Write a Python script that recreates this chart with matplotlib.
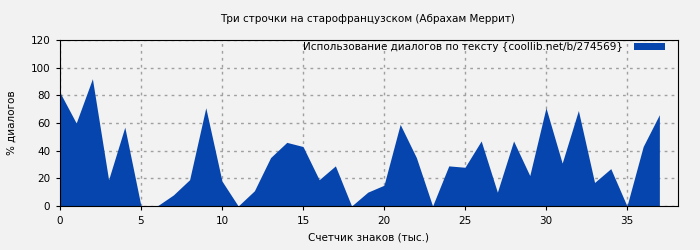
import numpy as np
from matplotlib import pyplot as plt

x = np.arange(0, 38)
usage = [82, 60, 92, 19, 57, 0, 0, 8, 19, 71, 18, 0, 11, 35, 46, 43, 19, 29, 0, 10,
         15, 59, 35, 0, 29, 28, 47, 10, 47, 22, 71, 31, 69, 17, 27, 0, 43, 66]

title = 'Три строчки на старофранцузском (Абрахам Меррит)'
label = 'Использование диалогов по тексту {coollib.net/b/274569}'

bg = '#f2f2f2'
fig = plt.figure(figsize=(7, 2.5), dpi=100, facecolor=bg)
ax = fig.add_axes([60/700, 44/250, 618/700, 166/250], facecolor=bg)
ax.fill_between(x, usage, 0, color='#0645ad', linewidth=0, label=label)
ax.set_xlim(0, 38.15)
ax.set_ylim(0, 120)
ax.set_xticks(range(0, 40, 5))
ax.set_yticks(range(0, 121, 20))
ax.grid(True, color='#a0a0a0', linestyle=(0, (2, 3)), linewidth=1)
ax.set_axisbelow(True)
ax.tick_params(labelsize=7.5, length=3, pad=4)
ax.set_xlabel('Счетчик знаков (тыс.)', fontsize=7.5, labelpad=5)
ax.set_ylabel('% диалогов', fontsize=7.5, labelpad=10)
fig.text(0.525, 0.925, title, ha='center', va='center', fontsize=7.5)
ax.legend(loc='upper right', frameon=False, fontsize=7.5, markerfirst=False,
          handlelength=3.0, handleheight=0.58, handletextpad=1.05,
          borderaxespad=0.0, borderpad=0.3, bbox_to_anchor=(1 - 10/618, 1 + 1/166))
fig.savefig('out.png', dpi=100, facecolor=bg)
